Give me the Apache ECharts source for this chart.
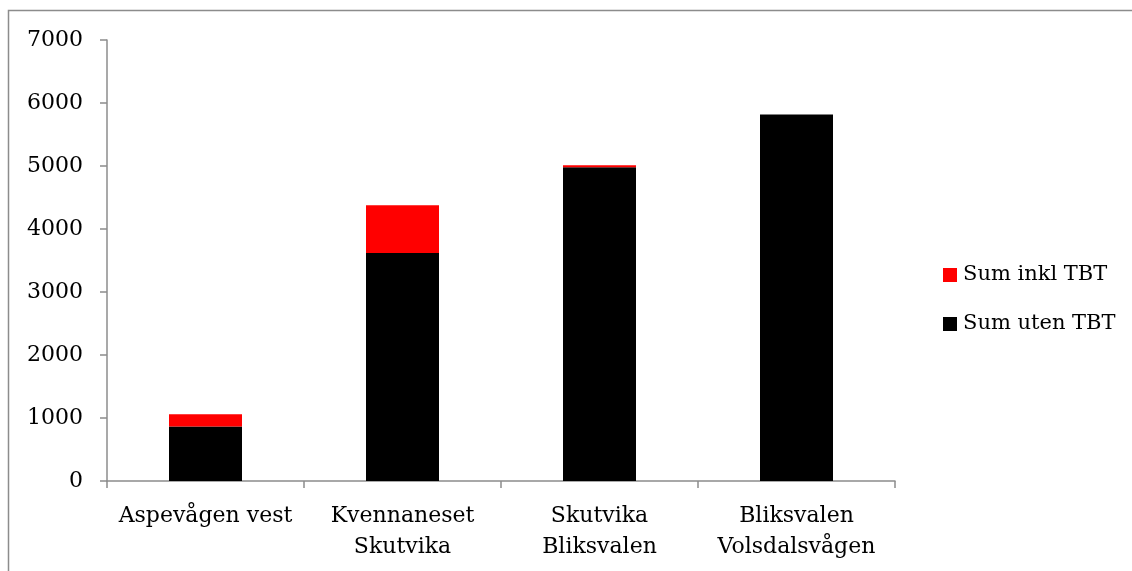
<!DOCTYPE html>
<html>
<head>
<meta charset="utf-8">
<script src="https://cdn.jsdelivr.net/npm/echarts@6/dist/echarts.min.js"></script>
<style>
  html, body { margin: 0; padding: 0; background: #fff; }
  #chart { width: 1132px; height: 571px; }
</style>
</head>
<body>
<div id="chart"></div>
<script>
// Stretches along the shoreline
const categories = ['Aspevågen vest', 'Kvennaneset\nSkutvika', 'Skutvika\nBliksvalen', 'Bliksvalen\nVolsdalsvågen'];
// Sum without TBT (lower, black segment)
const sumUtenTBT = [867, 3621, 4980, 5816];
// Extra amount when TBT is included (upper, red segment)
const tbtExtra = [191, 756, 32, 0];
// Value axis range
const yMin = 0;
const yMax = 7000;
const yStep = 1000;

const serif = '"DejaVu Serif", "Liberation Serif", serif';
const axisGray = '#8c8c8c';

const chart = echarts.init(document.getElementById('chart'), null, { renderer: 'canvas' });

chart.setOption({
  backgroundColor: '#fff',
  animation: false,
  graphic: [{
    type: 'rect',
    shape: { x: 8.5, y: 10.5, width: 1140, height: 580 },
    style: { fill: 'none', stroke: axisGray, lineWidth: 1.5 },
    silent: true
  }],
  grid: { left: 107, right: 237, top: 40, bottom: 90, containLabel: false },
  legend: {
    orient: 'vertical',
    left: 938,
    top: 259,
    itemWidth: 14,
    itemHeight: 14,
    itemGap: 27,
    icon: 'rect',
    data: ['Sum inkl TBT', 'Sum uten TBT'],
    textStyle: { fontFamily: serif, fontSize: 21, color: '#000', lineHeight: 22, padding: [0, 0, 0, 1] }
  },
  xAxis: {
    type: 'category',
    data: categories,
    axisLine: { lineStyle: { color: axisGray, width: 1.5 } },
    axisTick: { show: true, length: 7, lineStyle: { color: axisGray, width: 1.5 } },
    axisLabel: { fontFamily: serif, fontSize: 22, color: '#000', lineHeight: 31, margin: 20, interval: 0 }
  },
  yAxis: {
    type: 'value',
    min: yMin,
    max: yMax,
    interval: yStep,
    axisLine: { show: true, lineStyle: { color: axisGray, width: 1.5 } },
    axisTick: { show: true, length: 7, lineStyle: { color: axisGray, width: 1.5 } },
    splitLine: { show: false },
    axisLabel: { fontFamily: serif, fontSize: 22, color: '#000', margin: 24, formatter: v => String(v) }
  },
  series: [
    {
      name: 'Sum uten TBT',
      type: 'bar',
      stack: 'sum',
      data: sumUtenTBT,
      barWidth: 73,
      itemStyle: { color: '#000' }
    },
    {
      name: 'Sum inkl TBT',
      type: 'bar',
      stack: 'sum',
      data: tbtExtra,
      barWidth: 73,
      itemStyle: { color: '#ff0000' }
    }
  ]
});
</script>
</body>
</html>
